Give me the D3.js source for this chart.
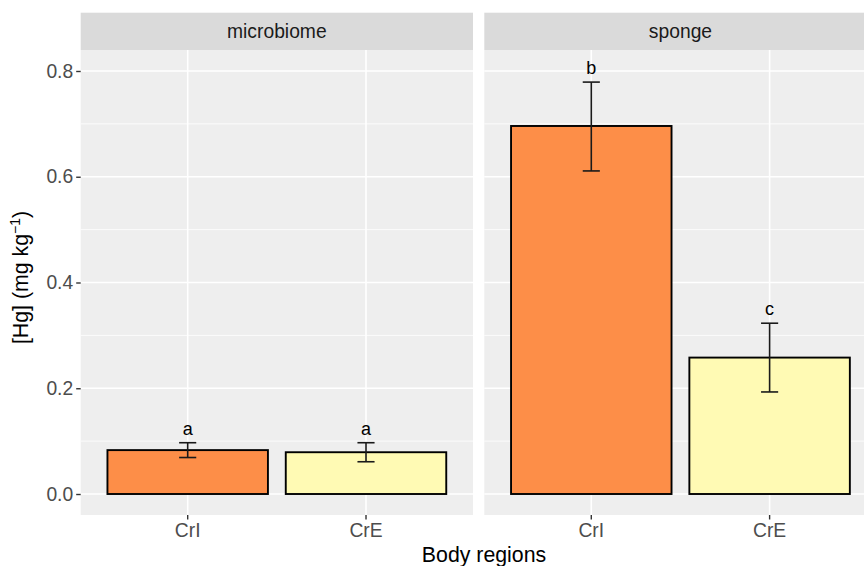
<!DOCTYPE html>
<html>
<head>
<meta charset="utf-8">
<script src="https://cdn.jsdelivr.net/npm/d3@7"></script>
<style>
  html, body { margin: 0; padding: 0; background: #ffffff; }
  svg { display: block; font-family: "Liberation Sans", Arial, sans-serif; }
</style>
</head>
<body>
<svg id="chart" width="864" height="566"></svg>
<script>
// Mercury concentration by body region, faceted by compartment
const panels = ["microbiome", "sponge"];
const regions = ["CrI", "CrE"];

const microbiomeMean  = [0.083, 0.079];
const microbiomeLower = [0.069, 0.061];
const microbiomeUpper = [0.097, 0.097];
const microbiomeLetters = ["a", "a"];

const spongeMean  = [0.696, 0.258];
const spongeLower = [0.611, 0.193];
const spongeUpper = [0.779, 0.323];
const spongeLetters = ["b", "c"];

const yTicks = [0, 0.2, 0.4, 0.6, 0.8];
const yMinorTicks = [0.1, 0.3, 0.5, 0.7];
const fillColors = ["#FD8E48", "#FFFAB4"];

const panelData = [
  { name: panels[0], mean: microbiomeMean, lower: microbiomeLower, upper: microbiomeUpper, letters: microbiomeLetters },
  { name: panels[1], mean: spongeMean, lower: spongeLower, upper: spongeUpper, letters: spongeLetters }
];

const svg = d3.select("#chart");

// layout
const panelLeft = [80.7, 484.3];
const panelWidth = 392.3;
const panelTop = 50;
const panelBottom = 515;
const stripTop = 12.7;

const y = d3.scaleLinear().domain([-0.0397, 0.8397]).range([panelBottom, panelTop]);
const x = d3.scaleBand().domain(regions).range([0, panelWidth])
  .paddingInner(0.1).paddingOuter(0.15);
const fill = d3.scaleOrdinal().domain(regions).range(fillColors);

panelData.forEach((p, pi) => {
  const g = svg.append("g").attr("transform", `translate(${panelLeft[pi]},0)`);

  // strip
  g.append("rect").attr("x", 0).attr("y", stripTop)
    .attr("width", panelWidth).attr("height", panelTop - stripTop)
    .attr("fill", "#DADADA");
  g.append("text").attr("x", panelWidth / 2).attr("y", (stripTop + panelTop) / 2)
    .attr("dy", "0.36em").attr("text-anchor", "middle")
    .attr("font-size", 19.3).attr("fill", "#1a1a1a").text(p.name);

  // panel background
  g.append("rect").attr("x", 0).attr("y", panelTop)
    .attr("width", panelWidth).attr("height", panelBottom - panelTop)
    .attr("fill", "#EEEEEE");

  // grid
  g.selectAll(".minor").data(yMinorTicks).join("line")
    .attr("x1", 0).attr("x2", panelWidth)
    .attr("y1", d => y(d)).attr("y2", d => y(d))
    .attr("stroke", "#ffffff").attr("stroke-width", 0.8);
  g.selectAll(".major").data(yTicks).join("line")
    .attr("x1", 0).attr("x2", panelWidth)
    .attr("y1", d => y(d)).attr("y2", d => y(d))
    .attr("stroke", "#ffffff").attr("stroke-width", 1.6);
  g.selectAll(".vgrid").data(regions).join("line")
    .attr("x1", d => x(d) + x.bandwidth() / 2).attr("x2", d => x(d) + x.bandwidth() / 2)
    .attr("y1", panelTop).attr("y2", panelBottom)
    .attr("stroke", "#ffffff").attr("stroke-width", 1.6);

  // bars
  g.selectAll(".bar").data(regions).join("rect")
    .attr("x", d => x(d))
    .attr("width", x.bandwidth())
    .attr("y", (d, i) => y(p.mean[i]))
    .attr("height", (d, i) => y(0) - y(p.mean[i]))
    .attr("fill", d => fill(d))
    .attr("stroke", "#000000").attr("stroke-width", 1.9);

  // error bars
  const capHalf = x.bandwidth() / 9 / 2 * 0.96;
  regions.forEach((r, i) => {
    const cx = x(r) + x.bandwidth() / 2;
    const eb = g.append("g").attr("stroke", "#1a1a1a").attr("stroke-width", 1.6);
    eb.append("line").attr("x1", cx).attr("x2", cx)
      .attr("y1", y(p.lower[i])).attr("y2", y(p.upper[i]));
    eb.append("line").attr("x1", cx - capHalf).attr("x2", cx + capHalf)
      .attr("y1", y(p.lower[i])).attr("y2", y(p.lower[i]));
    eb.append("line").attr("x1", cx - capHalf).attr("x2", cx + capHalf)
      .attr("y1", y(p.upper[i])).attr("y2", y(p.upper[i]));
    // significance letter
    g.append("text").attr("x", cx).attr("y", y(p.upper[i]) - 8)
      .attr("text-anchor", "middle").attr("font-size", 18)
      .attr("fill", "#000000").text(p.letters[i]);
  });

  // x axis
  const xAxis = g.append("g").attr("transform", `translate(0,${panelBottom})`)
    .call(d3.axisBottom(x).tickSize(4.5).tickPadding(4));
  xAxis.select(".domain").remove();
  xAxis.selectAll(".tick line").attr("stroke", "#333333").attr("stroke-width", 1.4);
  xAxis.selectAll(".tick text").attr("font-size", 19.3).attr("fill", "#4d4d4d")
    .attr("font-family", "Liberation Sans, Arial, sans-serif");

  // y axis on first panel only
  if (pi === 0) {
    const yAxis = g.append("g")
      .call(d3.axisLeft(y).tickValues(yTicks).tickFormat(d3.format(".1f")).tickSize(4.5).tickPadding(3));
    yAxis.select(".domain").remove();
    yAxis.selectAll(".tick line").attr("stroke", "#333333").attr("stroke-width", 1.4);
    yAxis.selectAll(".tick text").attr("font-size", 19.3).attr("fill", "#4d4d4d")
      .attr("font-family", "Liberation Sans, Arial, sans-serif");
  }
});

// axis titles
svg.append("text").attr("x", 484).attr("y", 562)
  .attr("text-anchor", "middle").attr("font-size", 21.3).attr("fill", "#000000")
  .text("Body regions");

const yTitle = svg.append("text")
  .attr("transform", `translate(28,${(panelTop + panelBottom) / 2 - 5}) rotate(-90)`)
  .attr("text-anchor", "middle").attr("font-size", 21.3).attr("fill", "#000000");
yTitle.append("tspan").text("[Hg] (mg kg");
yTitle.append("tspan").attr("font-size", 14).attr("dy", -8).text("−1");
yTitle.append("tspan").attr("dy", 8).text(")");
</script>
</body>
</html>
